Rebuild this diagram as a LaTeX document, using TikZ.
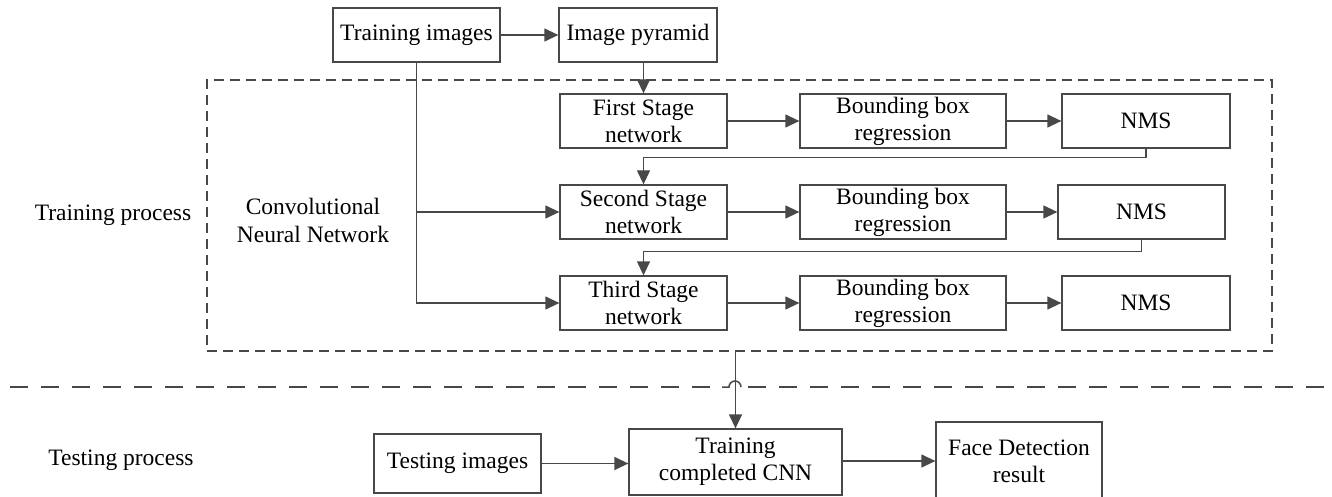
\documentclass[tikz,border=0pt]{standalone}
\usepackage{fontspec}
\setmainfont{Liberation Serif}
\usetikzlibrary{arrows.meta}
\definecolor{linegray}{RGB}{72,72,72}
\tikzset{
  box/.style={draw=linegray, line width=1.3pt, align=center, inner sep=0pt,
    font=\fontsize{23.5}{27}\selectfont},
  plain/.style={align=center, inner sep=0pt, font=\fontsize{23.5}{28}\selectfont},
  flow/.style={draw=linegray, line width=1.3pt, -{Triangle[length=14pt,width=13pt]}},
  frame/.style={draw=linegray, line width=1.3pt, dash pattern=on 10pt off 6pt, inner sep=0pt},
  divider/.style={draw=linegray, line width=1.5pt, dash pattern=on 18pt off 13pt}
}

\begin{document}
\begin{tikzpicture}[x=1pt,y=-1pt]
\newcommand{\rowa}{121}
\newcommand{\rowb}{212}
\newcommand{\rowc}{303}
\useasboundingbox (0,0) rectangle (1332,497);

% training part
\node[frame, minimum width=1065pt, minimum height=271pt] (cnnframe) at (739.5,215.5) {};
\node[box, minimum width=167pt, minimum height=54pt] (train) at (416.5,35) {Training images};
\node[box, minimum width=158pt, minimum height=54pt] (pyramid) at (638,35) {Image pyramid};

\node[box, minimum width=167pt, minimum height=54pt] (first) at (643.5,\rowa) {First Stage\\network};
\node[box, minimum width=206pt, minimum height=54pt] (bboxa) at (903,\rowa) {Bounding box\\regression};
\node[box, minimum width=168pt, minimum height=54pt] (nmsa) at (1146,\rowa) {NMS};

\node[box, minimum width=167pt, minimum height=54pt] (second) at (643.5,\rowb) {Second Stage\\network};
\node[box, minimum width=206pt, minimum height=54pt] (bboxb) at (903,\rowb) {Bounding box\\regression};
\node[box, minimum width=167pt, minimum height=54pt] (nmsb) at (1141.5,\rowb) {NMS};

\node[box, minimum width=167pt, minimum height=54pt] (third) at (643.5,\rowc) {Third Stage\\network};
\node[box, minimum width=206pt, minimum height=54pt] (bboxc) at (903,\rowc) {Bounding box\\regression};
\node[box, minimum width=168pt, minimum height=54pt] (nmsc) at (1146,\rowc) {NMS};

\node[plain] (trainlabel) at (113,215) {Training process};
\node[plain] (cnnlabel) at (313,220) {Convolutional\\Neural Network};

\draw[flow] (train) -- (pyramid);
\draw[flow] (pyramid.south -| first.north) -- (first.north);
\draw[flow] (train.south) |- (third.west);
\draw[flow] (train.south |- second.west) -- (second.west);

\draw[flow] (first) -- (bboxa);
\draw[flow] (bboxa) -- (nmsa);
\draw[flow] (second) -- (bboxb);
\draw[flow] (bboxb) -- (nmsb);
\draw[flow] (third) -- (bboxc);
\draw[flow] (bboxc) -- (nmsc);

\draw[flow] (nmsa.south) -- ++(0,9) -| (second.north);
\draw[flow] (nmsb.south) -- ++(0,12) -| (third.north);

% divider with a hop over the connector
\coordinate (hopleft) at (729,387);
\coordinate (hopright) at (741,387);
\draw[divider] (10,387) -- (716,387);
\draw[draw=linegray, line width=1.5pt] (722,387) -- (hopleft) arc[start angle=180, end angle=360, radius=6];
\draw[divider] (748,387) -- (1332,387);

% testing part
\node[plain] (testlabel) at (121,460) {Testing process};
\node[box, minimum width=167pt, minimum height=59pt] (test) at (457.5,463.5) {Testing images};
\node[box, minimum width=213pt, minimum height=66pt] (cnn) at (735.5,462) {Training\\completed CNN};
\node[box, minimum width=166pt, minimum height=78pt] (result) at (1019,461) {Face Detection\\result};

\draw[flow] (cnn.north |- cnnframe.south) -- (cnn.north);
\draw[flow] (test.east) -- (test.east -| cnn.west);
\draw[flow] (cnn.east |- result.west) -- (result.west);
\end{tikzpicture}
\end{document}
